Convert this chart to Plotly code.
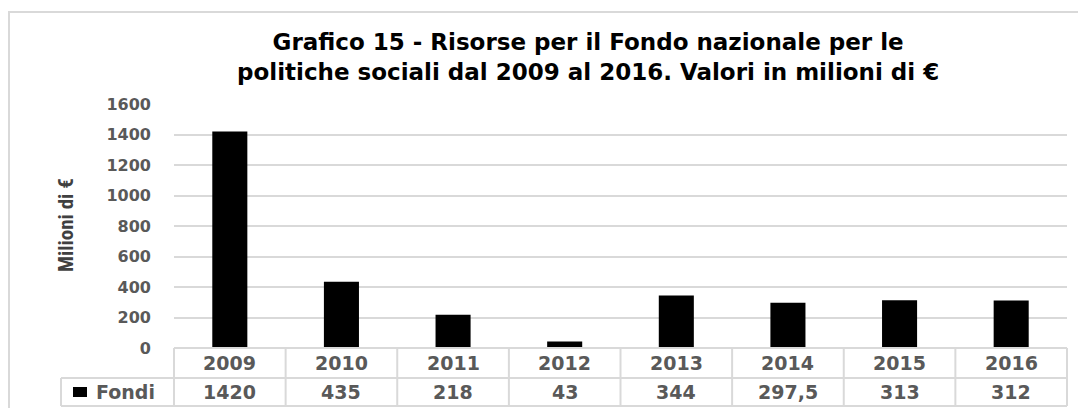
import plotly.graph_objects as go

# ---- data ----
years = ["2009", "2010", "2011", "2012", "2013", "2014", "2015", "2016"]
fondi = [1420, 435, 218, 43, 344, 297.5, 313, 312]
fondi_labels = ["1420", "435", "218", "43", "344", "297,5", "313", "312"]
series_name = "Fondi"
y_ticks = [0, 200, 400, 600, 800, 1000, 1200, 1400, 1600]
title_text = ("Grafico 15 - Risorse per il Fondo nazionale per le<br>"
              "politiche sociali dal 2009 al 2016. Valori in milioni di €")
y_title = "Milioni di €"

# ---- geometry (pixels, reference screenshot coordinates) ----
OFF = 8  # default page body margin
W, H = 1078, 400
L = 174 - OFF
R = W - (1067 - OFF)
T = 104 - OFF
B = H - (348 - OFF)
pw, ph = W - L - R, H - T - B


def fx(px):
    return (px - OFF - L) / pw


def fy(py):
    return (H - B - (py - OFF)) / ph


GRID = "#d9d9d9"
TXT = "#595959"
FONT = "DejaVu Sans"

fig = go.Figure()
fig.add_trace(go.Bar(x=years, y=fondi, name=series_name,
                     marker=dict(color="black", line=dict(width=0)),
                     showlegend=False))

row1 = fy(363)
row2 = fy(392)
tfont = dict(family=FONT, size=19, color=TXT, weight="bold")
annotations = []
for i, (yr, lab) in enumerate(zip(years, fondi_labels)):
    annotations.append(dict(x=i, y=row1, xref="x", yref="paper", text=yr,
                            showarrow=False, yanchor="middle", xanchor="center",
                            font=tfont))
    annotations.append(dict(x=i, y=row2, xref="x", yref="paper", text=lab,
                            showarrow=False, yanchor="middle", xanchor="center",
                            font=tfont))
annotations.append(dict(x=fx(94), y=row2, xref="paper", yref="paper",
                        text=series_name, showarrow=False, xanchor="left",
                        yanchor="middle", font=tfont))
annotations.append(dict(x=fx(588), y=fy(27), xref="paper", yref="paper",
                        text=title_text, showarrow=False, xanchor="center",
                        yanchor="top", align="center",
                        font=dict(family=FONT, size=23, color="black",
                                  weight="bold")))
annotations.append(dict(x=fx(66), y=fy(225), xref="paper", yref="paper",
                        text=y_title, showarrow=False, textangle=-90,
                        xanchor="center", yanchor="middle",
                        font=dict(family="Liberation Sans Narrow, Roboto Condensed, Roboto",
                                  size=21, color="#404040", weight="bold")))

shapes = []
line = dict(color=GRID, width=2)
n = len(years)
shapes.append(dict(type="line", xref="paper", yref="paper", x0=0, x1=1,
                   y0=0, y1=0, line=line))
for py in (378, 406):
    shapes.append(dict(type="line", xref="paper", yref="paper", x0=fx(61),
                       x1=1, y0=fy(py), y1=fy(py), line=line))
for k in range(n + 1):
    shapes.append(dict(type="line", xref="paper", yref="paper", x0=k / n,
                       x1=k / n, y0=0, y1=fy(406), line=line))
shapes.append(dict(type="line", xref="paper", yref="paper", x0=fx(61),
                   x1=fx(61), y0=fy(378), y1=fy(406), line=line))
shapes.append(dict(type="rect", xref="paper", yref="paper", x0=fx(73),
                   x1=fx(87), y0=fy(387), y1=fy(397),
                   fillcolor="black", line=dict(width=0)))
shapes.append(dict(type="rect", xref="paper", yref="paper", x0=fx(9),
                   x1=fx(1100), y0=fy(12), y1=fy(430),
                   line=dict(color=GRID, width=2), layer="below"))

fig.update_layout(
    width=W, height=H,
    margin=dict(l=L, r=R, t=T, b=B),
    paper_bgcolor="white", plot_bgcolor="white",
    bargap=0.686,
    annotations=annotations, shapes=shapes,
    xaxis=dict(type="category", range=[-0.5, n - 0.5], showticklabels=False,
               showgrid=False, zeroline=False, showline=False, ticks=""),
    yaxis=dict(range=[0, 1600], tickvals=y_ticks, showgrid=True,
               gridcolor=GRID, gridwidth=2, zeroline=False, showline=False,
               ticks="", ticklabelstandoff=22,
               tickfont=dict(family=FONT, size=16, color=TXT, weight="bold")),
    font=dict(family=FONT),
)

fig.write_html("out.html")
